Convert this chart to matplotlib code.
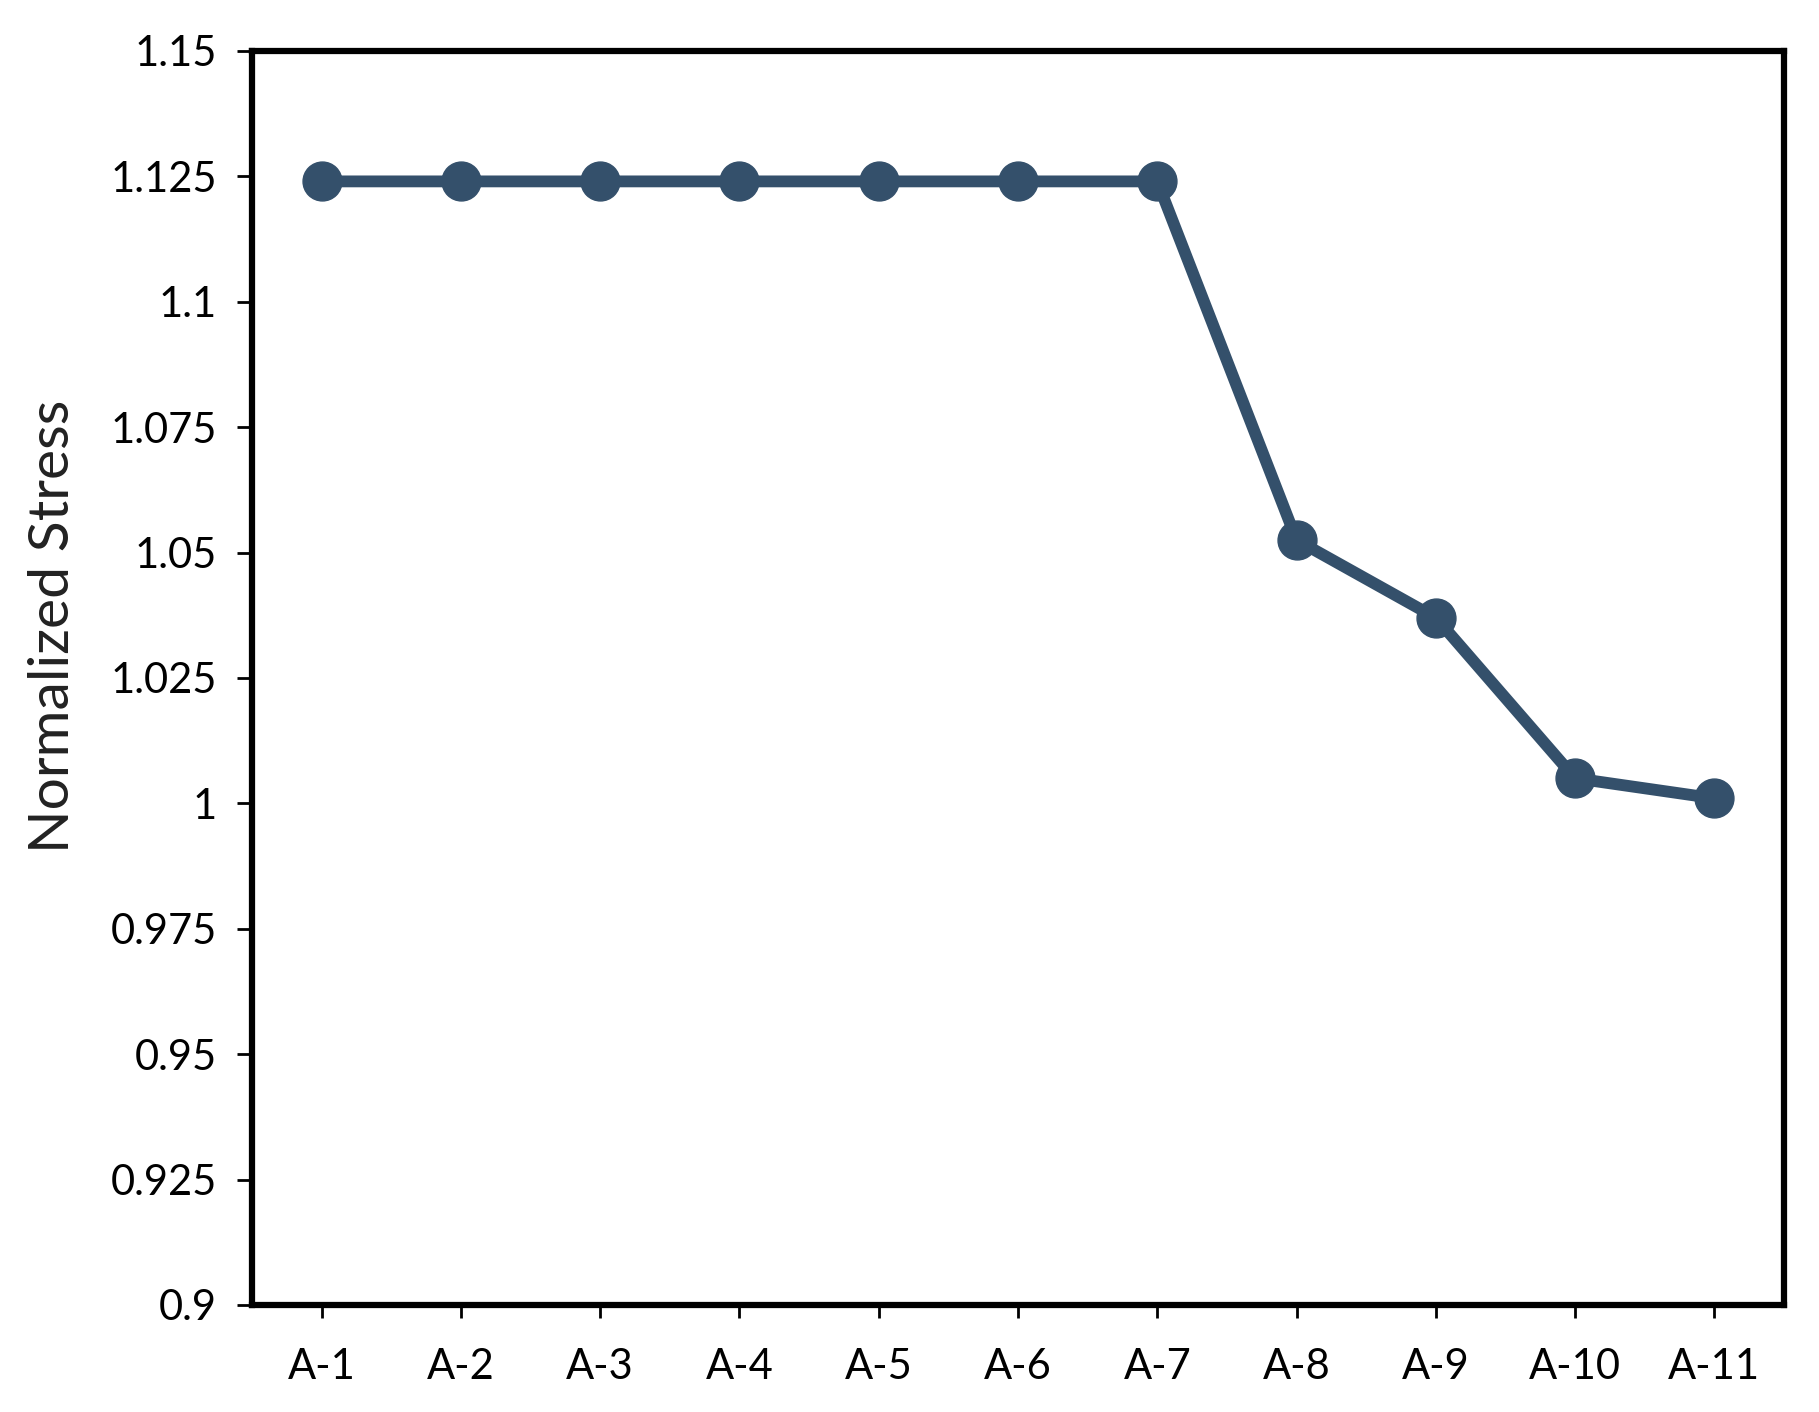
import numpy as np
import matplotlib
matplotlib.use('Agg')
import matplotlib.pyplot as plt

# Data
labels = ['A-1', 'A-2', 'A-3', 'A-4', 'A-5', 'A-6', 'A-7', 'A-8', 'A-9', 'A-10', 'A-11']
stress = [1.124, 1.124, 1.124, 1.124, 1.124, 1.124, 1.124, 1.0525, 1.037, 1.005, 1.001]
yticks = [0.9, 0.925, 0.95, 0.975, 1.0, 1.025, 1.05, 1.075, 1.1, 1.125, 1.15]
ytick_labels = ['0.9', '0.925', '0.95', '0.975', '1', '1.025', '1.05', '1.075', '1.1', '1.125', '1.15']

plt.rcParams['font.family'] = ['Lato', 'DejaVu Sans']

fig = plt.figure(figsize=(18.19, 14.12), dpi=100)
ax = fig.add_axes([0.1385, 0.0758, 0.8423, 0.8881])

x = np.arange(len(labels))
ax.plot(x, stress, color='#34506b', lw=8.5, marker='o', markersize=28,
        solid_capstyle='round', zorder=3)

ax.set_xlim(-0.5, len(labels) - 0.5)
ax.set_ylim(0.9, 1.15)
ax.set_xticks(x)
ax.set_xticklabels(labels)
ax.set_yticks(yticks)
ax.set_yticklabels(ytick_labels)

for s in ax.spines.values():
    s.set_linewidth(4.5)
    s.set_color('black')

ax.tick_params(axis='y', direction='out', length=11, width=2, pad=14,
               labelsize=30, colors='black')
ax.tick_params(axis='x', direction='out', length=9, width=2, pad=22,
               labelsize=30, colors='black')

ax.set_ylabel('Normalized Stress', fontsize=41, color='#222222')
ax.yaxis.set_label_coords(-0.113, 0.541)

fig.savefig('out.png', dpi=100, facecolor='white')
plt.close(fig)
